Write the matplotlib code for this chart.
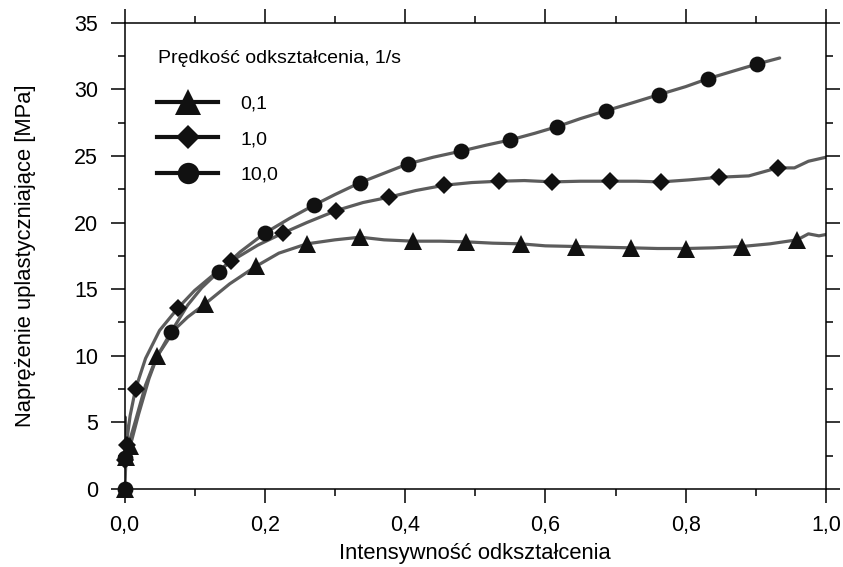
"""Flow stress vs. effective strain for three strain rates."""

import matplotlib
matplotlib.use("Agg")
import matplotlib.pyplot as plt
from matplotlib.ticker import MultipleLocator


plt.rcParams.update(
    {
        "font.family": ["Liberation Sans", "DejaVu Sans"],
        "font.size": 15,
        "axes.linewidth": 1.1,
    }
)


# ---------------------------------------------------------------------
# Data
# ---------------------------------------------------------------------
rate_labels = ["0,1", "1,0", "10,0"]

# strain rate 0.1 1/s
x_01 = [0.0, 0.002, 0.008, 0.02, 0.035, 0.047, 0.072, 0.09, 0.115, 0.15,
        0.187, 0.22, 0.26, 0.30, 0.336, 0.37, 0.411, 0.45, 0.487, 0.525,
        0.565, 0.60, 0.643, 0.68, 0.722, 0.76, 0.80, 0.84, 0.88, 0.92,
        0.959, 0.975, 0.99, 1.0]
y_01 = [0.0, 2.0, 3.2, 5.6, 8.3, 10.0, 12.0, 12.9, 13.9, 15.4,
        16.7, 17.7, 18.4, 18.7, 18.9, 18.7, 18.6, 18.6, 18.55, 18.45,
        18.4, 18.25, 18.2, 18.15, 18.1, 18.05, 18.05, 18.1, 18.2, 18.4,
        18.7, 19.15, 19.0, 19.1]
mx_01 = [0.0, 0.002, 0.008, 0.047, 0.115, 0.187, 0.26, 0.336, 0.411,
         0.487, 0.565, 0.643, 0.722, 0.80, 0.88, 0.959]
my_01 = [0.0, 2.4, 3.2, 10.0, 13.9, 16.7, 18.4, 18.9, 18.6,
         18.55, 18.4, 18.2, 18.1, 18.05, 18.2, 18.7]

# strain rate 1.0 1/s
x_1 = [0.0, 0.001, 0.003, 0.008, 0.0157, 0.03, 0.05, 0.0765, 0.10, 0.125,
       0.152, 0.19, 0.2255, 0.26, 0.302, 0.34, 0.377, 0.415, 0.456, 0.495,
       0.534, 0.57, 0.61, 0.65, 0.692, 0.73, 0.765, 0.805, 0.848, 0.89,
       0.931, 0.955, 0.975, 1.0]
y_1 = [0.0, 5.4, 3.5, 5.5, 7.5, 9.8, 11.9, 13.6, 14.9, 16.0,
       17.1, 18.3, 19.2, 20.0, 20.9, 21.5, 21.9, 22.4, 22.8, 23.0,
       23.1, 23.15, 23.05, 23.1, 23.1, 23.1, 23.05, 23.2, 23.4, 23.5,
       24.1, 24.1, 24.6, 24.9]
mx_1 = [0.001, 0.003, 0.0157, 0.0765, 0.152, 0.2255, 0.302, 0.377, 0.456,
        0.534, 0.61, 0.692, 0.765, 0.848, 0.931]
my_1 = [2.2, 3.3, 7.5, 13.6, 17.1, 19.2, 20.9, 21.9, 22.8,
        23.1, 23.05, 23.1, 23.05, 23.4, 24.1]

# strain rate 10.0 1/s
x_10 = [0.0, 0.001, 0.005, 0.015, 0.03, 0.045, 0.0665, 0.09, 0.11, 0.134,
        0.165, 0.20, 0.235, 0.27, 0.30, 0.336, 0.37, 0.404, 0.44, 0.479,
        0.515, 0.55, 0.585, 0.617, 0.65, 0.687, 0.725, 0.762, 0.80, 0.832,
        0.87, 0.902, 0.934]
y_10 = [0.0, 2.3, 3.2, 5.0, 7.8, 9.8, 11.8, 13.8, 15.1, 16.3,
        17.8, 19.2, 20.3, 21.3, 22.1, 23.0, 23.7, 24.4, 24.9, 25.35,
        25.8, 26.2, 26.7, 27.2, 27.8, 28.4, 29.0, 29.6, 30.2, 30.8,
        31.4, 31.9, 32.35]
mx_10 = [0.0, 0.001, 0.0665, 0.134, 0.20, 0.27, 0.336, 0.404, 0.479,
         0.55, 0.617, 0.687, 0.762, 0.832, 0.902]
my_10 = [0.0, 2.3, 11.8, 16.3, 19.2, 21.3, 23.0, 24.4, 25.35,
         26.2, 27.2, 28.4, 29.6, 30.8, 31.9]

x_ticks = [0.0, 0.2, 0.4, 0.6, 0.8, 1.0]
x_tick_labels = ["0,0", "0,2", "0,4", "0,6", "0,8", "1,0"]
y_ticks = [0, 5, 10, 15, 20, 25, 30, 35]


# ---------------------------------------------------------------------
# Figure
# ---------------------------------------------------------------------
fig = plt.figure(figsize=(8.43, 5.67), dpi=100)
ax = fig.add_axes([0.1477, 0.1376, 0.8321, 0.8224])

line_color = "#5c5c5c"
marker_color = "#111111"

series = [
    (x_01, y_01, mx_01, my_01, "^", 13.4),
    (x_1, y_1, mx_1, my_1, "D", 9.2),
    (x_10, y_10, mx_10, my_10, "o", 11.4),
]

handles = []
for (xs, ys, mxs, mys, marker, size), label in zip(series, rate_labels):
    ax.plot(xs, ys, color=line_color, linewidth=2.3, solid_capstyle="round")
    ax.plot(
        mxs, mys, linestyle="none", marker=marker, markersize=size,
        color=marker_color, markeredgewidth=0, clip_on=False, zorder=3,
    )
    (h,) = ax.plot(
        [], [], color=marker_color, linewidth=3.0, marker=marker,
        markersize=size * 1.35, markeredgewidth=0,
    )
    handles.append(h)

ax.set_xlim(0, 1.0)
ax.set_ylim(0, 35)
ax.set_xticks(x_ticks, x_tick_labels)
ax.set_yticks(y_ticks)
ax.xaxis.set_minor_locator(MultipleLocator(0.1))
ax.yaxis.set_minor_locator(MultipleLocator(2.5))

ax.tick_params(which="both", direction="out", top=True, right=True,
               width=1.1, labelsize=15.5)
ax.tick_params(which="major", length=10, pad=9)
ax.tick_params(which="minor", length=5)

ax.set_xlabel("Intensywność odkształcenia", fontsize=15.8, labelpad=5)
ax.set_ylabel("Naprężenie uplastyczniające [MPa]", fontsize=15.8,
              labelpad=27)

ax.text(0.0477, 0.924, "Prędkość odkształcenia, 1/s", transform=ax.transAxes,
        fontsize=14, ha="left", va="center")

ax.legend(
    handles, rate_labels, loc="upper left", bbox_to_anchor=(0.0463, 0.845),
    frameon=False, fontsize=14, borderpad=0, borderaxespad=0,
    handlelength=3.15, handletextpad=1.13, labelspacing=0.92,
)

fig.savefig("out.png", dpi=100, facecolor="white")
plt.close(fig)
